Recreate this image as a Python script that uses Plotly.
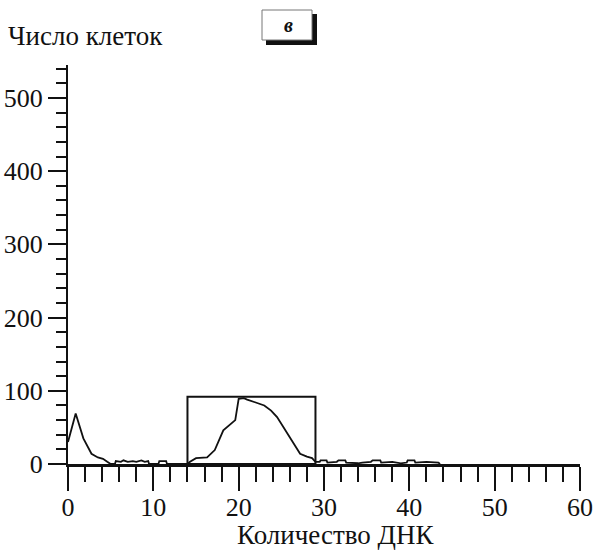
import plotly.graph_objects as go

# DNA content (x) and cell counts (y)
dna = [0, 0.9, 1.8, 2.75, 3.5, 4.1, 4.6, 5.0, 5.5, 5.6, 6.2, 6.5, 7.0, 7.6, 8.0, 8.6, 9.0, 9.4, 9.5,
       10.6, 10.7, 11.5, 11.6, 14.0, 14.3, 15.0, 16.3, 16.6, 17.2, 18.2, 18.9, 19.6, 20.0, 20.6,
       21.0, 21.6, 22.0, 23.0, 23.8, 24.5, 25.5, 26.5, 27.2, 28.0, 28.6, 29.0,
       29.5, 29.6, 30.3, 30.4, 31.5, 31.7, 32.5, 32.6, 33.5, 34.0, 34.5, 35.5, 35.7, 36.6, 36.7,
       38.0, 39.0, 39.7, 39.8, 40.6, 40.7, 42.0, 43.4, 43.6]
cells = [30, 69, 35, 14, 9, 7, 3, 0, 0, 4, 3, 5, 3, 4, 3, 5, 3, 4, 0,
         0, 4, 4, 0, 0, 3, 8, 9, 12, 19, 46, 53, 60, 89, 90,
         88, 85, 84, 80, 73, 64, 45, 26, 14, 10, 8, 3,
         3, 5, 5, 2, 3, 5, 5, 2, 1, 1, 2, 3, 5, 5, 2,
         3, 1, 2, 5, 5, 2, 3, 2, 0]

# gate (region) bounds
gate_x = [14, 29]
gate_top = 92

x_ticks = [0, 10, 20, 30, 40, 50, 60]
y_ticks = [0, 100, 200, 300, 400, 500]

FONT = "Liberation Serif, Times New Roman, serif"
INK = "#111111"

fig = go.Figure()
fig.add_trace(go.Scatter(x=dna, y=cells, mode="lines",
                         line=dict(color=INK, width=1.8), showlegend=False,
                         hoverinfo="skip"))

fig.add_shape(type="rect", xref="x", yref="y",
              x0=gate_x[0], x1=gate_x[1], y0=0, y1=gate_top,
              line=dict(color=INK, width=2), fillcolor="rgba(0,0,0,0)")

W, H = 596, 550
PL, PR, PT, PB = 68, 580, 65, 464        # plot-area edges in pixels
L, R, T, B = PL, W - PR, PT, H - PB
pw, ph = PR - PL, PB - PT


def px(xp):
    return (xp - PL) / pw


def py(yp):
    return (PB - yp) / ph


# "в" label box with shadow
fig.add_shape(type="rect", xref="paper", yref="paper",
              x0=px(266), x1=px(317), y0=py(45), y1=py(14),
              line=dict(color=INK, width=0), fillcolor=INK, layer="above")
fig.add_shape(type="rect", xref="paper", yref="paper",
              x0=px(262), x1=px(312), y0=py(40), y1=py(10),
              line=dict(color="#777", width=1), fillcolor="white", layer="above")
fig.add_annotation(text="<b><i>в</i></b>", xref="paper", yref="paper",
                   x=px(288), y=py(25), showarrow=False,
                   font=dict(family=FONT, size=20, color=INK),
                   xanchor="center", yanchor="middle")

fig.add_annotation(text="Число клеток", xref="paper", yref="paper",
                   x=px(6), y=py(36), showarrow=False, xanchor="left", yanchor="middle",
                   font=dict(family=FONT, size=27, color=INK))
fig.add_annotation(text="Количество ДНК", xref="paper", yref="paper",
                   x=px(335), y=py(535), showarrow=False, xanchor="center", yanchor="middle",
                   font=dict(family=FONT, size=27, color=INK))

fig.update_xaxes(range=[0, 60], tickvals=x_ticks, ticktext=[str(v) for v in x_ticks],
                 ticks="outside", ticklen=24, tickwidth=2, tickcolor=INK,
                 ticklabelstandoff=-6,
                 minor=dict(dtick=2, tick0=0, ticks="outside", ticklen=15, tickwidth=2, tickcolor=INK),
                 showline=True, linewidth=2.5, linecolor=INK, automargin=False,
                 showgrid=False, zeroline=False, fixedrange=True,
                 tickfont=dict(family=FONT, size=26, color=INK))
fig.update_yaxes(range=[0, 545], tickvals=y_ticks, ticktext=[str(v) for v in y_ticks],
                 ticks="outside", ticklen=18, tickwidth=2, tickcolor=INK,
                 minor=dict(dtick=20, tick0=0, ticks="outside", ticklen=10, tickwidth=2, tickcolor=INK),
                 showline=True, linewidth=2, linecolor=INK, automargin=False,
                 showgrid=False, zeroline=False, fixedrange=True,
                 tickfont=dict(family=FONT, size=26, color=INK))

fig.update_layout(width=W, height=H, autosize=False,
                  margin=dict(l=L, r=R, t=T, b=B, pad=0, autoexpand=False),
                  paper_bgcolor="white", plot_bgcolor="white",
                  showlegend=False)

# remove the browser's default 8px body margin so the figure fills the window exactly
fig.write_html("out.html", config={"displayModeBar": False},
               post_script="document.body.style.margin='0';document.body.style.overflow='hidden';")
